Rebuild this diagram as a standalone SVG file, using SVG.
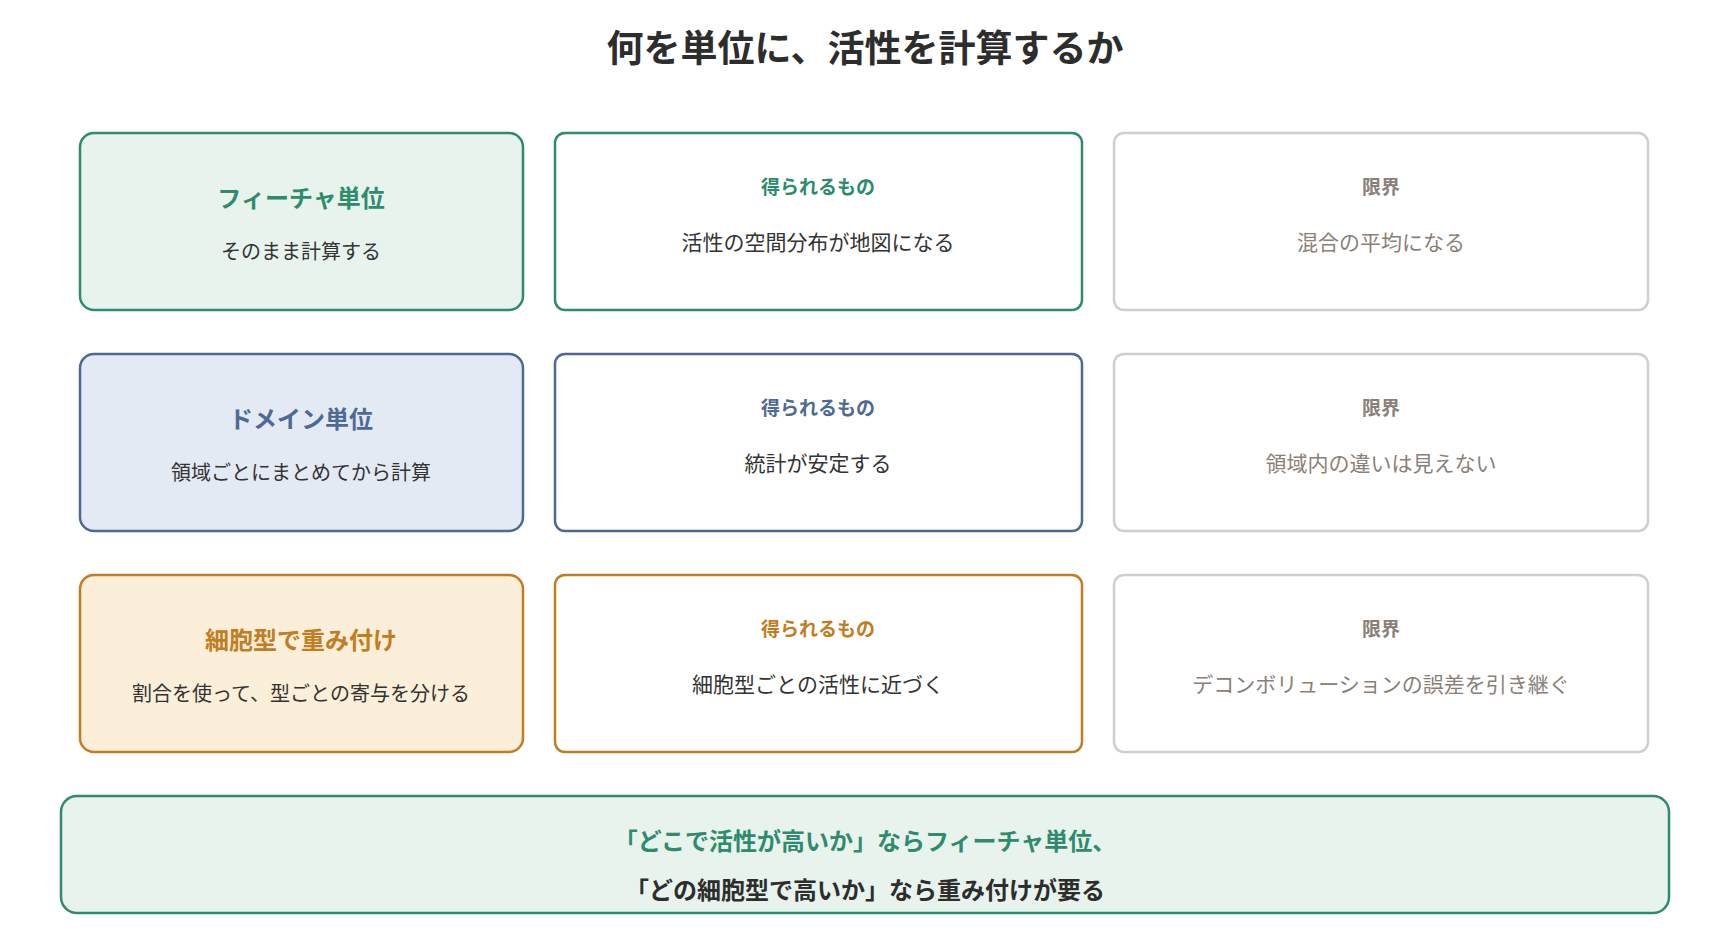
<svg xmlns="http://www.w3.org/2000/svg" width="1720" height="940" viewBox="0 0 1720 940">
<style>
text{font-family:"Noto Sans CJK JP","Noto Sans",sans-serif;text-anchor:middle;dominant-baseline:central}
.b{stroke-width:2.5}
.g{stroke:#2e8b6e}.u{stroke:#4d6a96}.o{stroke:#c27d22}.n{stroke:#cfcfcf}
.h{font-size:24px;font-weight:700}
.s{font-size:20px;fill:#333}
.l{font-size:19px;font-weight:700}
.t{font-size:21px;fill:#333}
.gt{fill:#2e8b6e}.ut{fill:#4d6a96}.ot{fill:#c27d22}.nt{fill:#8a8078}
</style>
<rect width="1720" height="940" fill="#fff"/>
<text x="865" y="46" style="font-size:37px;font-weight:700;fill:#2d2d2d">何を単位に、活性を計算するか</text>
<g id="r1c1"><rect class="b g" x="80" y="133" width="443" height="177" rx="14" fill="#e7f3ec"/><text class="h gt" x="301" y="196">フィーチャ単位</text><text class="s" x="301" y="250">そのまま計算する</text></g>
<g id="r1c2"><rect class="b g" x="555" y="133" width="527" height="177" rx="10" fill="#fff"/><text class="l gt" x="818" y="185">得られるもの</text><text class="t" x="818" y="241">活性の空間分布が地図になる</text></g>
<g id="r1c3"><rect class="b n" x="1114" y="133" width="534" height="177" rx="10" fill="#fff"/><text class="l nt" x="1381" y="185">限界</text><text class="t nt" x="1381" y="241">混合の平均になる</text></g>
<g id="r2c1"><rect class="b u" x="80" y="354" width="443" height="177" rx="14" fill="#e4eaf3"/><text class="h ut" x="301" y="417">ドメイン単位</text><text class="s" x="301" y="471">領域ごとにまとめてから計算</text></g>
<g id="r2c2"><rect class="b u" x="555" y="354" width="527" height="177" rx="10" fill="#fff"/><text class="l ut" x="818" y="406">得られるもの</text><text class="t" x="818" y="462">統計が安定する</text></g>
<g id="r2c3"><rect class="b n" x="1114" y="354" width="534" height="177" rx="10" fill="#fff"/><text class="l nt" x="1381" y="406">限界</text><text class="t nt" x="1381" y="462">領域内の違いは見えない</text></g>
<g id="r3c1"><rect class="b o" x="80" y="575" width="443" height="177" rx="14" fill="#fcefd9"/><text class="h ot" x="301" y="638">細胞型で重み付け</text><text class="s" x="301" y="692">割合を使って、型ごとの寄与を分ける</text></g>
<g id="r3c2"><rect class="b o" x="555" y="575" width="527" height="177" rx="10" fill="#fff"/><text class="l ot" x="818" y="627">得られるもの</text><text class="t" x="818" y="683">細胞型ごとの活性に近づく</text></g>
<g id="r3c3"><rect class="b n" x="1114" y="575" width="534" height="177" rx="10" fill="#fff"/><text class="l nt" x="1381" y="627">限界</text><text class="t nt" x="1381" y="683">デコンボリューションの誤差を引き継ぐ</text></g>
<g id="summary"><rect class="b g" x="61" y="796" width="1608" height="117" rx="16" fill="#e7f3ec"/><text x="865" y="839" style="font-size:24px;font-weight:700;fill:#2e8b6e">「どこで活性が高いか」ならフィーチャ単位、</text><text x="865" y="888" style="font-size:24px;font-weight:700;fill:#2d2d2d">「どの細胞型で高いか」なら重み付けが要る</text></g>
<g id="connectors"/>
</svg>
